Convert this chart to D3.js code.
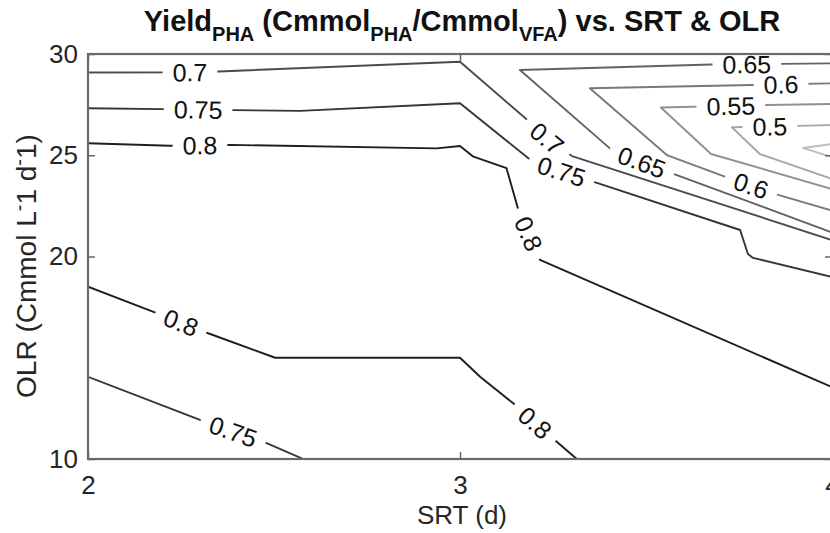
<!DOCTYPE html>
<html lang="en">
<head>
<meta charset="utf-8">
<title>Yield PHA vs. SRT &amp; OLR</title>
<style>
    html, body { margin: 0; padding: 0; background: #fff; overflow: hidden; }
    svg { display: block; font-family: "Liberation Sans", Arial, sans-serif; }
</style>
</head>
<body>

<script src="https://d3js.org/d3.v7.min.js"></script>
<script>
    // ticks
    var srtTicks = [2, 3, 4];
    var olrTicks = [10, 20, 25, 30];

    // contour lines, points are [SRT, OLR]
    var line080a = [[2.000, 25.59], [2.220, 25.47], [2.382, 25.51], [2.937, 25.34], [3.000, 25.46], [3.036, 24.93],
        [3.125, 24.36], [3.157, 22.30], [3.215, 19.83], [4.000, 13.55]];
    var line080b = [[2.000, 18.51], [2.176, 17.27], [2.323, 16.21], [2.503, 15.00], [3.000, 15.00], [3.054, 14.06],
        [3.143, 12.75], [3.260, 10.85], [3.314, 10.00]];
    var line075a = [[2.000, 27.32], [2.198, 27.28], [2.395, 27.23], [2.570, 27.19], [3.000, 27.57], [3.183, 24.86],
        [3.228, 24.47], [3.368, 23.64], [3.753, 21.31], [3.774, 20.12], [3.788, 19.93], [4.000, 18.99]];
    var line075b = [[2.000, 14.06], [2.301, 11.93], [2.480, 10.78], [2.579, 10.00]];
    var line070 = [[2.000, 29.09], [2.301, 29.10], [3.000, 29.62], [3.175, 26.84], [3.242, 25.70], [3.301, 24.96],
        [4.000, 20.81]];
    var line065 = [[4.000, 29.54], [3.866, 29.51], [3.675, 29.48], [3.161, 29.21], [3.403, 25.34], [3.414, 25.16],
        [3.583, 24.02], [4.000, 21.19]];
    var line060 = [[4.000, 28.55], [3.349, 28.31], [3.556, 25.01], [3.712, 23.94], [3.855, 23.04], [4.000, 22.27]];
    var line055 = [[4.000, 27.53], [3.828, 27.48], [3.540, 27.36], [3.675, 25.06], [4.000, 23.33]];
    var line050 = [[4.000, 26.49], [3.731, 26.38], [3.806, 25.06], [4.000, 23.83]];
    var line045 = [[4.000, 25.56], [3.922, 25.36], [4.000, 24.91]];

    // where the inline labels sit, [SRT, OLR]
    var lab080a = [[2.301, 25.48], [3.183, 21.11]];
    var lab080b = [[2.250, 16.74], [3.202, 11.80]];
    var lab075a = [[2.296, 27.26], [3.274, 24.27]];
    var lab075b = [[2.390, 11.35]];
    var lab070 = [[2.274, 29.09], [3.237, 25.90]];
    var lab065 = [[3.771, 29.51], [3.489, 24.67]];
    var lab060 = [[3.863, 28.52], [3.782, 23.48]];
    var lab055 = [[3.728, 27.43]];
    var lab050 = [[3.833, 26.42]];

    // nearest point on a pixel polyline, with its arc length
    function nearest(pts, p) {
        var best = {d: Infinity, s: 0}, s = 0;
        for (var i = 0; i < pts.length - 1; i++) {
            var a = pts[i], b = pts[i + 1];
            var dx = b[0] - a[0], dy = b[1] - a[1], L = Math.hypot(dx, dy);
            var t = ((p[0] - a[0]) * dx + (p[1] - a[1]) * dy) / (L * L);
            t = Math.max(0, Math.min(1, t));
            var q = [a[0] + t * dx, a[1] + t * dy];
            var d = Math.hypot(p[0] - q[0], p[1] - q[1]);
            if (d < best.d) best = {d: d, s: s + t * L, q: q};
            s += L;
        }
        return best;
    }

    function pointAt(pts, s) {
        s = Math.max(0, s);
        for (var i = 0; i < pts.length - 1; i++) {
            var a = pts[i], b = pts[i + 1], L = Math.hypot(b[0] - a[0], b[1] - a[1]);
            if (s <= L) return [a[0] + (b[0] - a[0]) * s / L, a[1] + (b[1] - a[1]) * s / L];
            s -= L;
        }
        return pts[pts.length - 1];
    }

    function main() {
        var width = 830,
            height = 533;

        var x = d3.scaleLinear().domain([2, 4]).range([88, 832]);
        var y = d3.scaleLinear().domain([10, 30]).range([459, 54]);

        var contours = [
            {level: 0.8, pts: line080a, labels: lab080a},
            {level: 0.8, pts: line080b, labels: lab080b},
            {level: 0.75, pts: line075a, labels: lab075a},
            {level: 0.75, pts: line075b, labels: lab075b},
            {level: 0.7, pts: line070, labels: lab070},
            {level: 0.65, pts: line065, labels: lab065},
            {level: 0.6, pts: line060, labels: lab060},
            {level: 0.55, pts: line055, labels: lab055},
            {level: 0.5, pts: line050, labels: lab050},
            {level: 0.45, pts: line045, labels: []}
        ];

        // darker lines for higher yield
        var shade = d3.scaleLinear().domain([0.45, 0.8]).range(["#bdbdbd", "#1e1e1e"]);

        var svg = d3.select("body").append("svg")
            .attr("width", width)
            .attr("height", height);

        var defs = svg.append("defs");
        defs.append("clipPath").attr("id", "plotClip").append("rect")
            .attr("x", x(2)).attr("y", y(30))
            .attr("width", x(4) - x(2)).attr("height", y(10) - y(30));

        var line = d3.line().x(function (d) { return x(d[0]); }).y(function (d) { return y(d[1]); });

        var linesG = svg.append("g").attr("clip-path", "url(#plotClip)");
        var labelsG = svg.append("g").attr("clip-path", "url(#plotClip)");

        contours.forEach(function (c, i) {
            var px = c.pts.map(function (d) { return [x(d[0]), y(d[1])]; });

            // mask cuts a gap in this line only, where its labels go
            var mask = defs.append("mask").attr("id", "gap" + i)
                .attr("maskUnits", "userSpaceOnUse")
                .attr("x", 0).attr("y", 0).attr("width", width).attr("height", height);
            mask.append("rect").attr("width", width).attr("height", height).attr("fill", "#fff");

            linesG.append("path")
                .attr("d", line(c.pts))
                .attr("mask", "url(#gap" + i + ")")
                .attr("fill", "none")
                .attr("stroke", shade(c.level))
                .attr("stroke-width", 1.9)
                .attr("stroke-linejoin", "round");

            c.labels.forEach(function (l) {
                var hit = nearest(px, [x(l[0]), y(l[1])]);
                var a = pointAt(px, hit.s - 18), b = pointAt(px, hit.s + 18);
                var ang = Math.atan2(b[1] - a[1], b[0] - a[0]) * 180 / Math.PI;
                if (ang > 90) ang -= 180;
                if (ang < -90) ang += 180;
                var tr = "translate(" + hit.q[0] + "," + hit.q[1] + ") rotate(" + ang + ")";

                var t = labelsG.append("text")
                    .attr("transform", tr)
                    .attr("text-anchor", "middle")
                    .attr("dy", "0.36em")
                    .attr("font-size", 25)
                    .attr("fill", "#111")
                    .text(String(c.level));
                var len = t.node().getComputedTextLength();

                mask.append("rect")
                    .attr("transform", tr)
                    .attr("x", -len / 2 - 10).attr("y", -10)
                    .attr("width", len + 20).attr("height", 20)
                    .attr("fill", "#000");
            });
        });

        // axes, ticks pointing inwards like matlab
        function styleAxis(g) {
            g.select(".domain").remove();
            g.selectAll(".tick line").attr("stroke", "#666").attr("stroke-width", 1.5);
            g.selectAll(".tick text").attr("font-size", 26).attr("fill", "#262626")
                .attr("font-family", '"Liberation Sans", Arial, sans-serif');
        }

        svg.append("g").attr("transform", "translate(0," + y(10) + ")")
            .call(d3.axisBottom(x).tickValues(srtTicks).tickSize(-7).tickPadding(17).tickFormat(d3.format("d")))
            .call(styleAxis);
        svg.append("g").attr("transform", "translate(0," + y(30) + ")")
            .call(d3.axisTop(x).tickValues(srtTicks).tickSize(-7).tickFormat(""))
            .call(styleAxis);
        svg.append("g").attr("transform", "translate(" + x(2) + ",0)")
            .call(d3.axisLeft(y).tickValues(olrTicks).tickSize(-7).tickPadding(10).tickFormat(d3.format("d")))
            .call(styleAxis);
        svg.append("g").attr("transform", "translate(" + x(4) + ",0)")
            .call(d3.axisRight(y).tickValues(olrTicks).tickSize(-7).tickFormat(""))
            .call(styleAxis);

        svg.append("rect")
            .attr("x", x(2)).attr("y", y(30))
            .attr("width", x(4) - x(2)).attr("height", y(10) - y(30))
            .attr("fill", "none")
            .attr("stroke", "#6a6a6a")
            .attr("stroke-width", 2.2);

        // x label
        svg.append("text")
            .attr("x", (x(2) + x(4)) / 2 + 2).attr("y", 524)
            .attr("text-anchor", "middle")
            .attr("font-size", 26)
            .attr("fill", "#262626")
            .text("SRT (d)");

        // y label with superscript minus signs
        var yl = svg.append("text")
            .attr("transform", "translate(36,266) rotate(-90)")
            .attr("text-anchor", "middle")
            .attr("font-size", 28)
            .attr("fill", "#262626");
        yl.append("tspan").text("OLR (Cmmol L");
        yl.append("tspan").attr("dy", -10).attr("font-size", 20).text("-");
        yl.append("tspan").attr("dy", 10).text("1 d");
        yl.append("tspan").attr("dy", -10).attr("font-size", 20).text("-");
        yl.append("tspan").attr("dy", 10).text("1)");

        // title with subscripts
        var title = svg.append("text")
            .attr("x", 462).attr("y", 31)
            .attr("text-anchor", "middle")
            .attr("font-size", 29)
            .attr("font-weight", "bold")
            .attr("fill", "#111");
        title.append("tspan").text("Yield");
        title.append("tspan").attr("dy", 10).attr("font-size", 20).text("PHA");
        title.append("tspan").attr("dy", -10).text(" (Cmmol");
        title.append("tspan").attr("dy", 10).attr("font-size", 20).text("PHA");
        title.append("tspan").attr("dy", -10).text("/Cmmol");
        title.append("tspan").attr("dy", 10).attr("font-size", 20).text("VFA");
        title.append("tspan").attr("dy", -10).text(") vs. SRT & OLR");
    }

    window.onload = function () {
        main();
    };
</script>
</body>
</html>
